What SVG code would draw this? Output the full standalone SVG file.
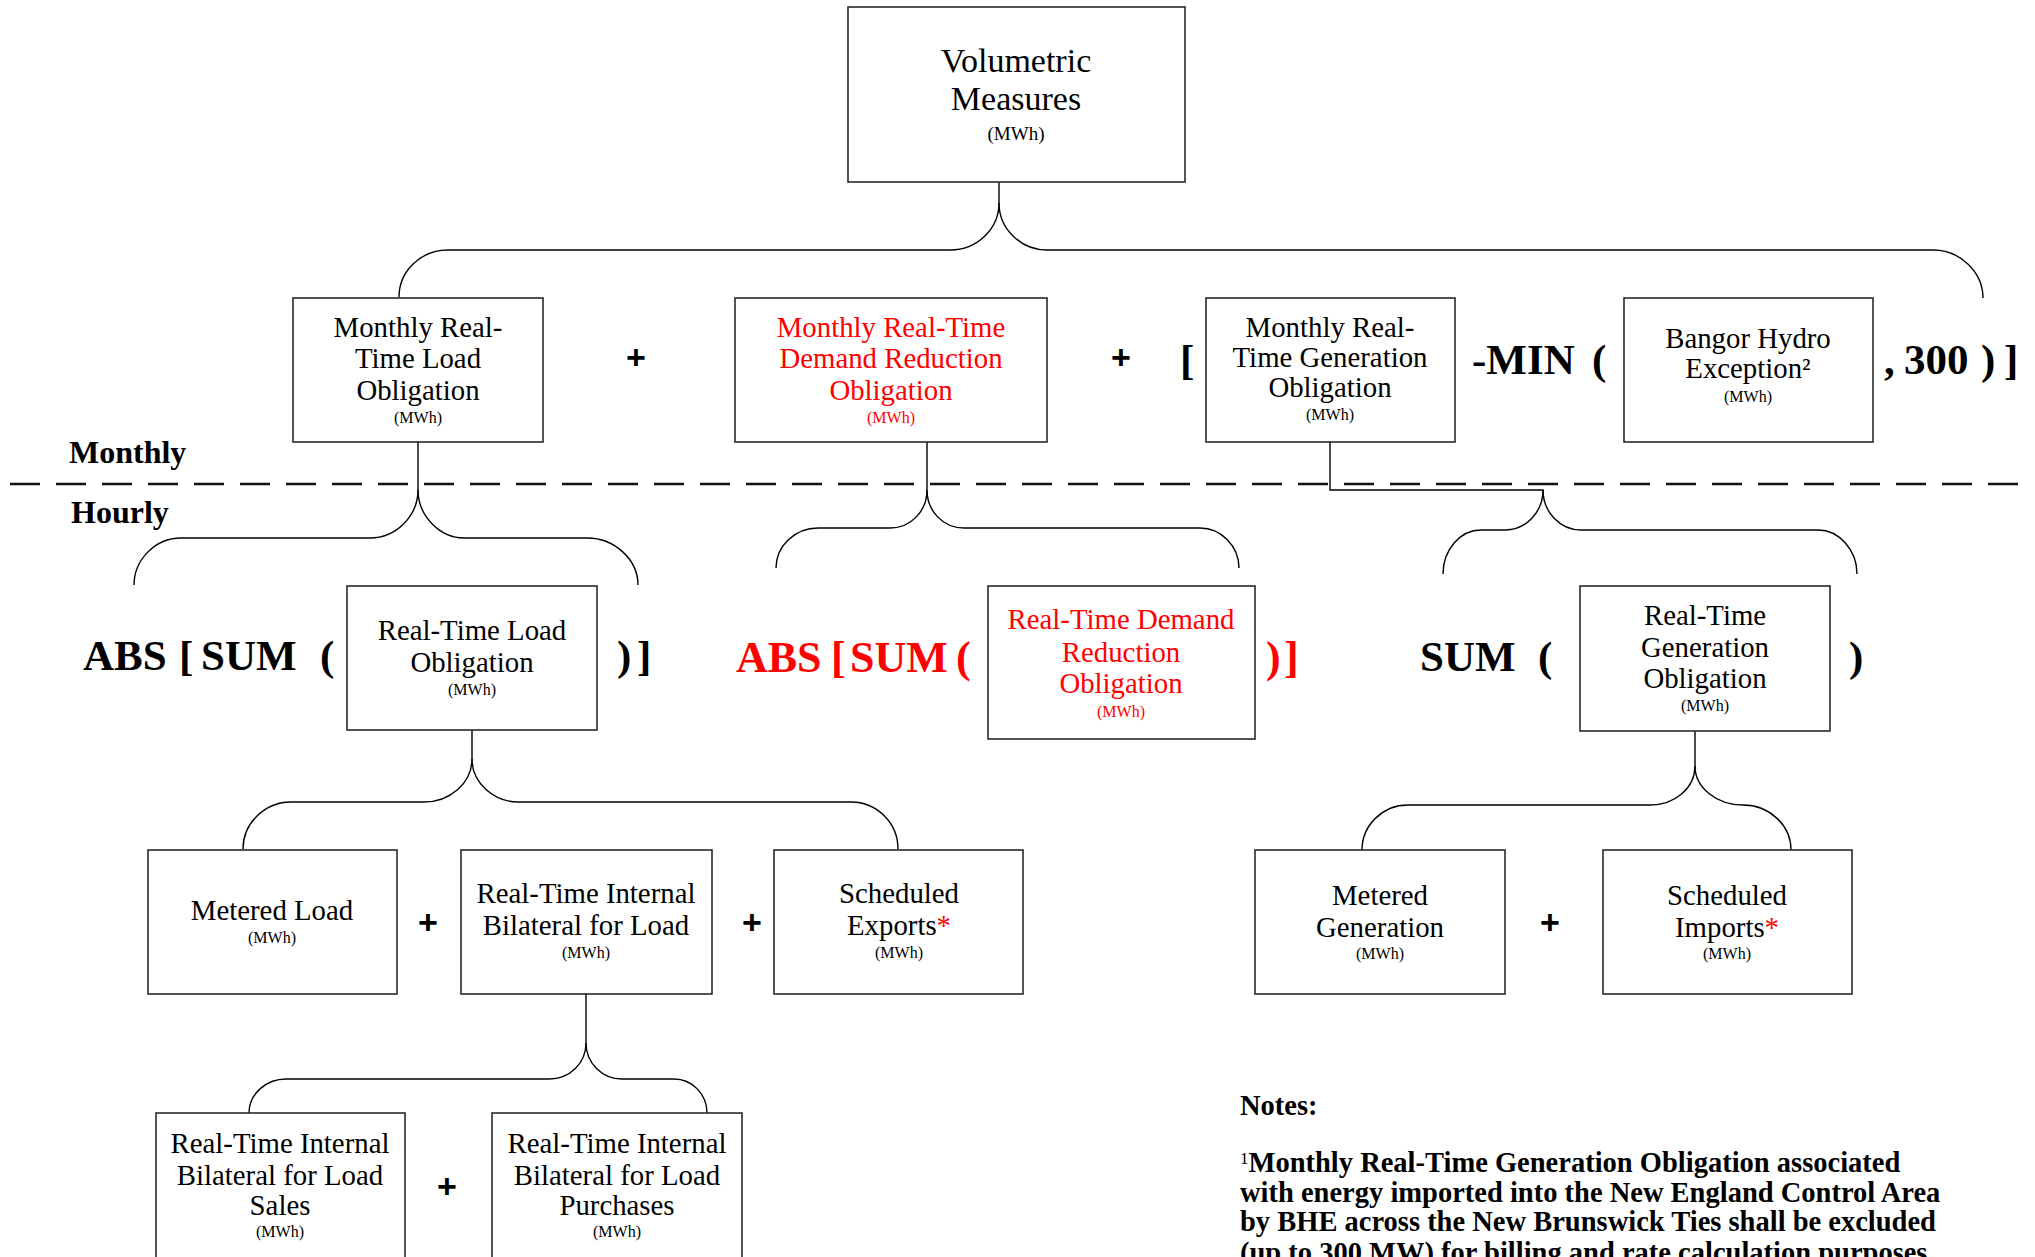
<svg xmlns="http://www.w3.org/2000/svg" width="2035" height="1257" viewBox="0 0 2035 1257">
<style>
.bx{fill:#fff;stroke:#2a2a2a;stroke-width:1.6}
.t{font-family:"Liberation Serif","Times New Roman",serif;font-size:28.8px;text-anchor:middle;fill:#000}
.u{font-family:"Liberation Serif","Times New Roman",serif;font-size:16px;text-anchor:middle;fill:#000}
.op{font-family:"Liberation Serif","Times New Roman",serif;font-size:43px;font-weight:bold;fill:#000}
.pl{font-family:"Liberation Sans",Arial,sans-serif;font-size:34px;font-weight:bold;text-anchor:middle;fill:#000}
.lb{font-family:"Liberation Serif","Times New Roman",serif;font-size:32px;font-weight:bold;fill:#000}
.nt{font-family:"Liberation Serif","Times New Roman",serif;font-size:28.5px;font-weight:bold;fill:#000}
.c{fill:none;stroke:#000;stroke-width:1.4}
.r{fill:#ff0000}
</style>
<rect width="2035" height="1257" fill="#fff"/>

<g id="divider">
<path d="M10,484 H2030" fill="none" stroke="#111" stroke-width="2.5" stroke-dasharray="30 16"/>
<text class="lb" x="69" y="463">Monthly</text>
<text class="lb" x="71" y="523">Hourly</text>
</g>

<g id="connectors">
<path class="c" d="M999,182 V203 C999,229 977,250 950,250 H448 C421,250 399,271 399,297"/>
<path class="c" d="M999,203 C999,229 1021,250 1047,250 H1933 C1960,250 1983,272 1983,298"/>
<path class="c" d="M418,442 V490 C418,516 396,538 370,538 H181 C155,538 134,560 134,585"/>
<path class="c" d="M418,490 C418,516 440,538 464,538 H587 C615,538 638,560 638,585"/>
<path class="c" d="M927,442 V490 C927,511 911,528 890,528 H818 C795,528 776,546 776,568"/>
<path class="c" d="M927,490 C927,511 943,528 964,528 H1200 C1221,528 1239,546 1239,568"/>
<path class="c" d="M1330,442 V490 H1543 C1543,512 1526,530 1505,530 H1481 C1460,530 1443,550 1443,574"/>
<path class="c" d="M1543,490 C1543,512 1560,530 1581,530 H1818 C1839,530 1857,550 1857,574"/>
<path class="c" d="M472,730 V759 C472,783 450,802 424,802 H291 C265,802 243,823 243,849"/>
<path class="c" d="M472,759 C472,783 494,802 518,802 H851 C877,802 898,823 898,849"/>
<path class="c" d="M1695,731 V766 C1695,788 1675,805 1650,805 H1408 C1383,805 1362,825 1362,850"/>
<path class="c" d="M1695,766 C1695,788 1717,805 1743,805 C1769,805 1791,825 1791,850"/>
<path class="c" d="M586,994 V1043 C586,1063 570,1079 549,1079 H286 C266,1079 249,1094 249,1113"/>
<path class="c" d="M586,1043 C586,1063 602,1079 622,1079 H674 C692,1079 707,1094 707,1113"/>
</g>

<g id="volumetric-measures">
<rect class="bx" x="848" y="7" width="337" height="175"/>
<text class="t" x="1016" y="72" style="font-size:34px">Volumetric</text>
<text class="t" x="1016" y="110" style="font-size:34px">Measures</text>
<text class="u" x="1016" y="140" style="font-size:19px">(MWh)</text>
</g>

<g id="monthly-rt-load-obligation">
<rect class="bx" x="293" y="298" width="250" height="144"/>
<text class="t" x="418" y="337">Monthly Real-</text>
<text class="t" x="418" y="368">Time Load</text>
<text class="t" x="418" y="400">Obligation</text>
<text class="u" x="418" y="423">(MWh)</text>
</g>

<text class="pl" x="636" y="369">+</text>

<g id="monthly-rt-demand-reduction">
<rect class="bx" x="735" y="298" width="312" height="144"/>
<text class="t r" x="891" y="337">Monthly Real-Time</text>
<text class="t r" x="891" y="368">Demand Reduction</text>
<text class="t r" x="891" y="400">Obligation</text>
<text class="u r" x="891" y="423">(MWh)</text>
</g>

<text class="pl" x="1121" y="369">+</text>
<text class="op" x="1180" y="374">[</text>

<g id="monthly-rt-generation-obligation">
<rect class="bx" x="1206" y="298" width="249" height="144"/>
<text class="t" x="1330" y="337">Monthly Real-</text>
<text class="t" x="1330" y="367">Time Generation</text>
<text class="t" x="1330" y="397">Obligation</text>
<text class="u" x="1330" y="420">(MWh)</text>
</g>

<text class="op" x="1472" y="374">-MIN</text>
<text class="op" x="1592" y="374">(</text>

<g id="bangor-hydro-exception">
<rect class="bx" x="1624" y="298" width="249" height="144"/>
<text class="t" x="1748" y="348">Bangor Hydro</text>
<text class="t" x="1748" y="378">Exception²</text>
<text class="u" x="1748" y="402">(MWh)</text>
</g>

<text class="op" x="1884" y="374">,</text>
<text class="op" x="1904" y="374">300</text>
<text class="op" x="1981" y="374">)</text>
<text class="op" x="2004" y="374">]</text>

<text class="op" x="83" y="670">ABS</text>
<text class="op" x="179" y="670">[</text>
<text class="op" x="201" y="670">SUM</text>
<text class="op" x="320" y="670">(</text>
<text class="op" x="617" y="670">)</text>
<text class="op" x="637" y="670">]</text>

<g id="rt-load-obligation">
<rect class="bx" x="347" y="586" width="250" height="144"/>
<text class="t" x="472" y="640">Real-Time Load</text>
<text class="t" x="472" y="672">Obligation</text>
<text class="u" x="472" y="695">(MWh)</text>
</g>

<text class="op r" x="736" y="672" style="font-size:44px">ABS</text>
<text class="op r" x="831" y="672" style="font-size:44px">[</text>
<text class="op r" x="850" y="672" style="font-size:44px">SUM</text>
<text class="op r" x="956" y="672" style="font-size:44px">(</text>
<text class="op r" x="1266" y="672" style="font-size:44px">)</text>
<text class="op r" x="1284" y="672" style="font-size:44px">]</text>

<g id="rt-demand-reduction-obligation">
<rect class="bx" x="988" y="586" width="267" height="153"/>
<text class="t r" x="1121" y="629">Real-Time Demand</text>
<text class="t r" x="1121" y="662">Reduction</text>
<text class="t r" x="1121" y="693">Obligation</text>
<text class="u r" x="1121" y="717">(MWh)</text>
</g>

<text class="op" x="1420" y="671">SUM</text>
<text class="op" x="1538" y="671">(</text>
<text class="op" x="1849" y="671">)</text>

<g id="rt-generation-obligation">
<rect class="bx" x="1580" y="586" width="250" height="145"/>
<text class="t" x="1705" y="625">Real-Time</text>
<text class="t" x="1705" y="657">Generation</text>
<text class="t" x="1705" y="688">Obligation</text>
<text class="u" x="1705" y="711">(MWh)</text>
</g>

<g id="metered-load">
<rect class="bx" x="148" y="850" width="249" height="144"/>
<text class="t" x="272" y="920">Metered Load</text>
<text class="u" x="272" y="943">(MWh)</text>
</g>

<text class="pl" x="428" y="934">+</text>

<g id="rt-internal-bilateral-for-load">
<rect class="bx" x="461" y="850" width="251" height="144"/>
<text class="t" x="586" y="903">Real-Time Internal</text>
<text class="t" x="586" y="935">Bilateral for Load</text>
<text class="u" x="586" y="958">(MWh)</text>
</g>

<text class="pl" x="752" y="934">+</text>

<g id="scheduled-exports">
<rect class="bx" x="774" y="850" width="249" height="144"/>
<text class="t" x="899" y="903">Scheduled</text>
<text class="t" x="899" y="935">Exports<tspan class="r">*</tspan></text>
<text class="u" x="899" y="958">(MWh)</text>
</g>

<g id="metered-generation">
<rect class="bx" x="1255" y="850" width="250" height="144"/>
<text class="t" x="1380" y="905">Metered</text>
<text class="t" x="1380" y="937">Generation</text>
<text class="u" x="1380" y="959">(MWh)</text>
</g>

<text class="pl" x="1550" y="934">+</text>

<g id="scheduled-imports">
<rect class="bx" x="1603" y="850" width="249" height="144"/>
<text class="t" x="1727" y="905">Scheduled</text>
<text class="t" x="1727" y="937">Imports<tspan class="r">*</tspan></text>
<text class="u" x="1727" y="959">(MWh)</text>
</g>

<g id="rt-ib-load-sales">
<rect class="bx" x="156" y="1113" width="249" height="170"/>
<text class="t" x="280" y="1153">Real-Time Internal</text>
<text class="t" x="280" y="1185">Bilateral for Load</text>
<text class="t" x="280" y="1215">Sales</text>
<text class="u" x="280" y="1237">(MWh)</text>
</g>

<text class="pl" x="447" y="1198">+</text>

<g id="rt-ib-load-purchases">
<rect class="bx" x="492" y="1113" width="250" height="170"/>
<text class="t" x="617" y="1153">Real-Time Internal</text>
<text class="t" x="617" y="1185">Bilateral for Load</text>
<text class="t" x="617" y="1215">Purchases</text>
<text class="u" x="617" y="1237">(MWh)</text>
</g>

<g id="notes">
<text class="nt" x="1240" y="1115">Notes:</text>
<text class="nt" x="1240" y="1172"><tspan style="font-size:17px;font-weight:normal" dy="-8">1</tspan><tspan dy="8">Monthly Real-Time Generation Obligation associated</tspan></text>
<text class="nt" x="1240" y="1202">with energy imported into the New England Control Area</text>
<text class="nt" x="1240" y="1231">by BHE across the New Brunswick Ties shall be excluded</text>
<text class="nt" x="1240" y="1262">(up to 300 MW) for billing and rate calculation purposes.</text>
</g>
</svg>
